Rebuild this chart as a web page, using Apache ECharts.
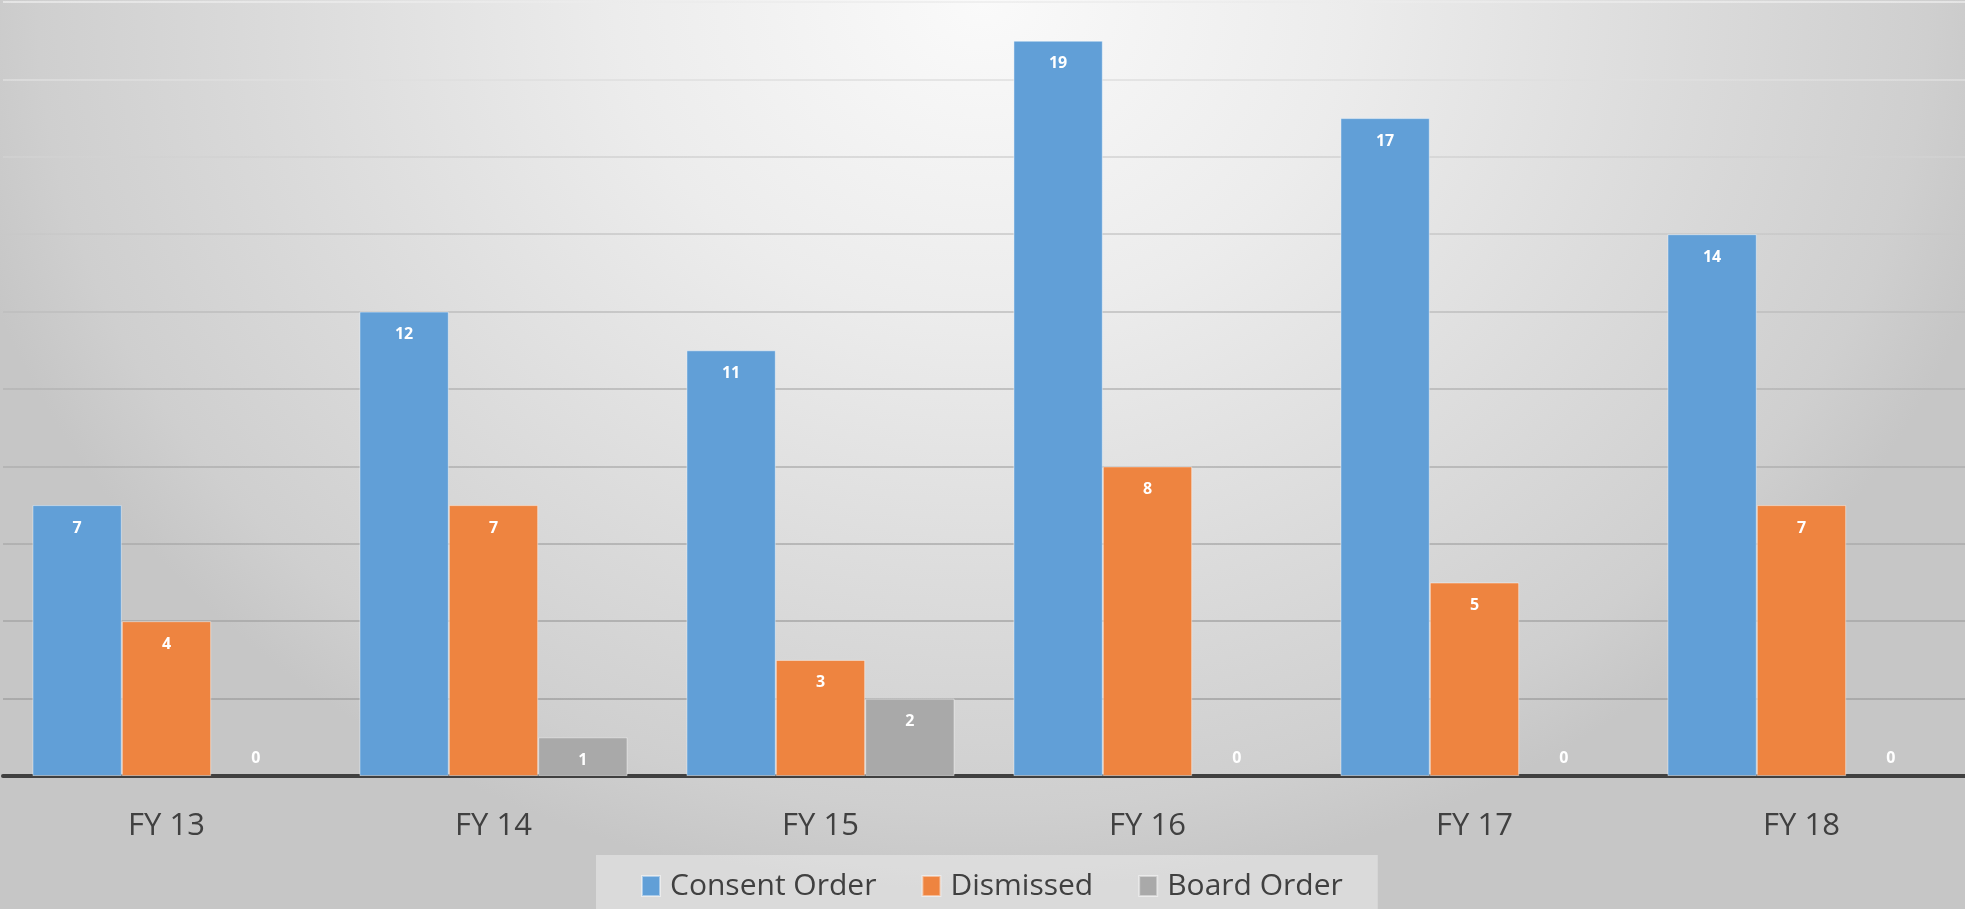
<!DOCTYPE html>
<html>
<head>
<meta charset="utf-8">
<script src="https://cdn.jsdelivr.net/npm/echarts@6/dist/echarts.min.js"></script>
<style>
  html, body { margin: 0; padding: 0; width: 1965px; height: 909px; overflow: hidden; }
  body {
    background: radial-gradient(ellipse 1050px 900px at 50% 0%, #fafafa 0%, #ececec 35%, #dcdcdc 65%, #cfcfcf 90%, #c6c6c6 100%);
  }
  #chart { width: 1965px; height: 909px; }
</style>
</head>
<body>
<div id="chart"></div>
<script>
const categories = ['FY 13', 'FY 14', 'FY 15', 'FY 16', 'FY 17', 'FY 18'];
const consentOrder = [7, 12, 11, 19, 17, 14];
const dismissed = [4, 7, 3, 8, 5, 7];
const boardOrder = [0, 1, 2, 0, 0, 0];
const seriesNames = ['Consent Order', 'Dismissed', 'Board Order'];
const yMin = 0, yMax = 20, yInterval = 2;

const colors = ['#619fd7', '#ee8440', '#a9a9a9'];
const FONT = '"Open Sans", "DejaVu Sans", sans-serif';

function items(arr) {
  return arr.map(v => v === 0
    ? { value: v, itemStyle: { borderWidth: 0 }, label: { position: 'top', distance: 10 } }
    : v);
}

function makeSeries(name, arr, color) {
  return {
    name: name,
    type: 'bar',
    data: items(arr),
    barGap: '0%',
    barCategoryGap: '18%',
    itemStyle: { color: color, borderColor: 'rgba(255,255,255,0.45)', borderWidth: 1 },
    label: {
      show: true,
      position: 'insideTop',
      distance: 15,
      color: '#ffffff',
      fontFamily: FONT,
      fontWeight: 'bold',
      fontSize: 16
    }
  };
}

const chart = echarts.init(document.getElementById('chart'), null, { renderer: 'canvas' });
chart.setOption({
  backgroundColor: 'transparent',
  animation: false,
  color: colors,
  grid: { left: 3, right: 0, top: 2, bottom: 133, containLabel: false },
  legend: {
    data: seriesNames,
    left: 596,
    top: 855,
    orient: 'horizontal',
    padding: [16, 35, 16, 45],
    backgroundColor: 'rgba(255,255,255,0.35)',
    itemWidth: 18,
    itemHeight: 20,
    itemGap: 45,
    icon: 'rect',
    textStyle: { fontFamily: FONT, fontSize: 30, color: '#404040', lineHeight: 30, padding: [0, 0, 0, 5] }
  },
  xAxis: {
    type: 'category',
    data: categories,
    axisLine: { show: true, lineStyle: { color: '#404040', width: 4 } },
    axisTick: { show: false },
    axisLabel: { fontFamily: FONT, fontSize: 31, lineHeight: 31, color: '#404040', margin: 35 },
    splitLine: { show: false }
  },
  yAxis: {
    type: 'value',
    min: yMin,
    max: yMax,
    interval: yInterval,
    axisLine: { show: false },
    axisTick: { show: false },
    axisLabel: { show: false },
    splitLine: {
      show: true,
      lineStyle: {
        width: 1.5,
        color: {
          type: 'linear', x: 0, y: 0, x2: 0, y2: 776, global: true,
          colorStops: [
            { offset: 0, color: '#ececec' },
            { offset: 0.2, color: '#d2d2d2' },
            { offset: 0.5, color: '#b4b4b4' },
            { offset: 1, color: '#9c9c9c' }
          ]
        }
      }
    }
  },
  series: [
    makeSeries(seriesNames[0], consentOrder, colors[0]),
    makeSeries(seriesNames[1], dismissed, colors[1]),
    makeSeries(seriesNames[2], boardOrder, colors[2])
  ]
});
</script>
</body>
</html>
